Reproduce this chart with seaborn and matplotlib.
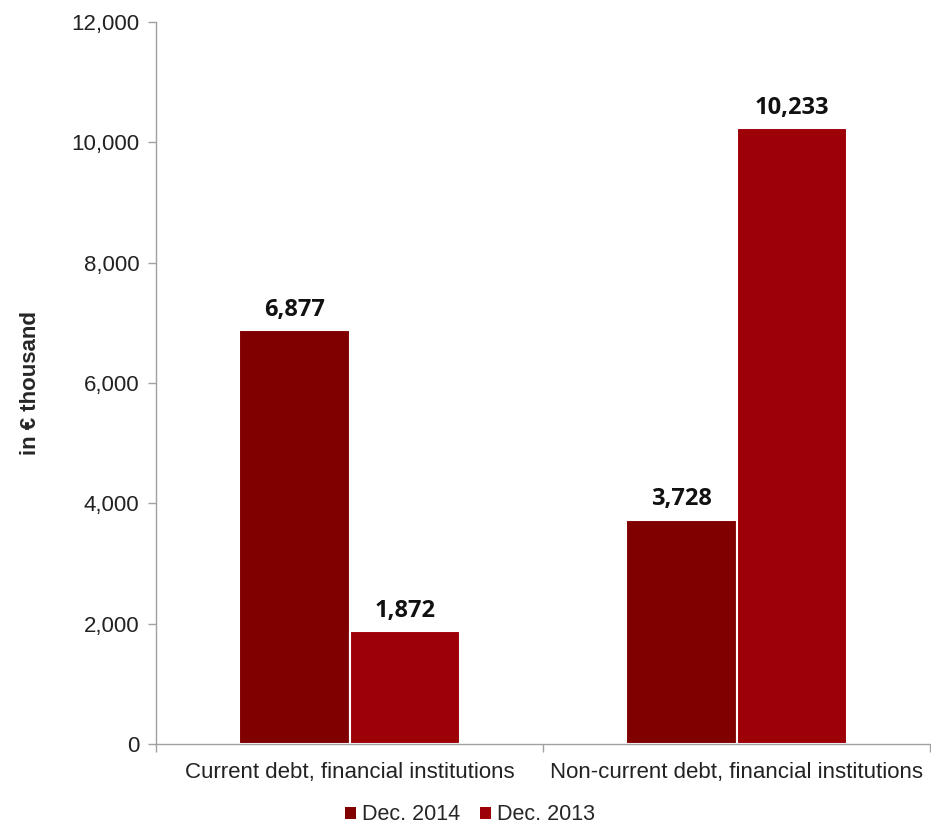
import matplotlib
matplotlib.use("Agg")
import matplotlib.pyplot as plt
import seaborn as sns
import pandas as pd
from matplotlib.ticker import FuncFormatter, FixedLocator
from matplotlib.patches import Patch

categories = ["Current debt, financial institutions", "Non-current debt, financial institutions"]
series = ["Dec. 2014", "Dec. 2013"]
dec2014 = [6877, 3728]
dec2013 = [1872, 10233]
colors = ["#800000", "#9E0008"]

df = pd.DataFrame({
    "category": categories * 2,
    "series": [series[0]] * 2 + [series[1]] * 2,
    "value": dec2014 + dec2013,
})

sns.set_theme(style="white")
plt.rcParams["font.family"] = ["Liberation Sans", "DejaVu Sans"]

fig = plt.figure(figsize=(9.31, 8.25), dpi=100)
ax = fig.add_axes([0.1676, 0.0982, 0.8314, 0.8751])

sns.barplot(data=df, x="category", y="value", hue="series", order=categories,
            hue_order=series, palette=colors, saturation=1, width=0.57, ax=ax,
            edgecolor="white", linewidth=1.5, legend=False)

ax.set_xlim(-0.5, 1.5)
ax.set_ylim(0, 12000)
ax.set_yticks(range(0, 12001, 2000))
ax.yaxis.set_major_formatter(FuncFormatter(lambda v, p: f"{int(v):,}"))
ax.tick_params(axis="y", labelsize=16, colors="#222222", length=6, width=1,
               direction="out", left=True, color="#A0A0A0", pad=6)
ax.tick_params(axis="x", labelsize=16, colors="#222222", length=0, pad=13)
ax.xaxis.set_minor_locator(FixedLocator([-0.5, 0.5, 1.5]))
ax.tick_params(axis="x", which="minor", length=6, width=1, color="#A0A0A0", bottom=True)
for s in ["top", "right"]:
    ax.spines[s].set_visible(False)
for s in ["left", "bottom"]:
    ax.spines[s].set_color("#A0A0A0")
    ax.spines[s].set_linewidth(1)
ax.set_xlabel("")
ax.set_ylabel("in € thousand", fontsize=16, fontweight="bold")
ax.yaxis.set_label_coords(-0.148, 0.5)

for cont in ax.containers:
    ax.bar_label(cont, labels=[f"{int(v):,}" for v in cont.datavalues],
                 padding=6, fontsize=17, fontweight="bold", color="#111111",
                 family=["Open Sans", "DejaVu Sans"])

handles = [Patch(facecolor=c, edgecolor="none") for c in colors]
fig.legend(handles, series, loc="lower center", bbox_to_anchor=(0.505, -0.016), ncol=2,
           frameon=False, fontsize=15.5, handlelength=0.5, handleheight=0.5,
           handletextpad=0.3, columnspacing=0.9, borderaxespad=0.2)

fig.savefig("out.png", dpi=100, facecolor="white")
